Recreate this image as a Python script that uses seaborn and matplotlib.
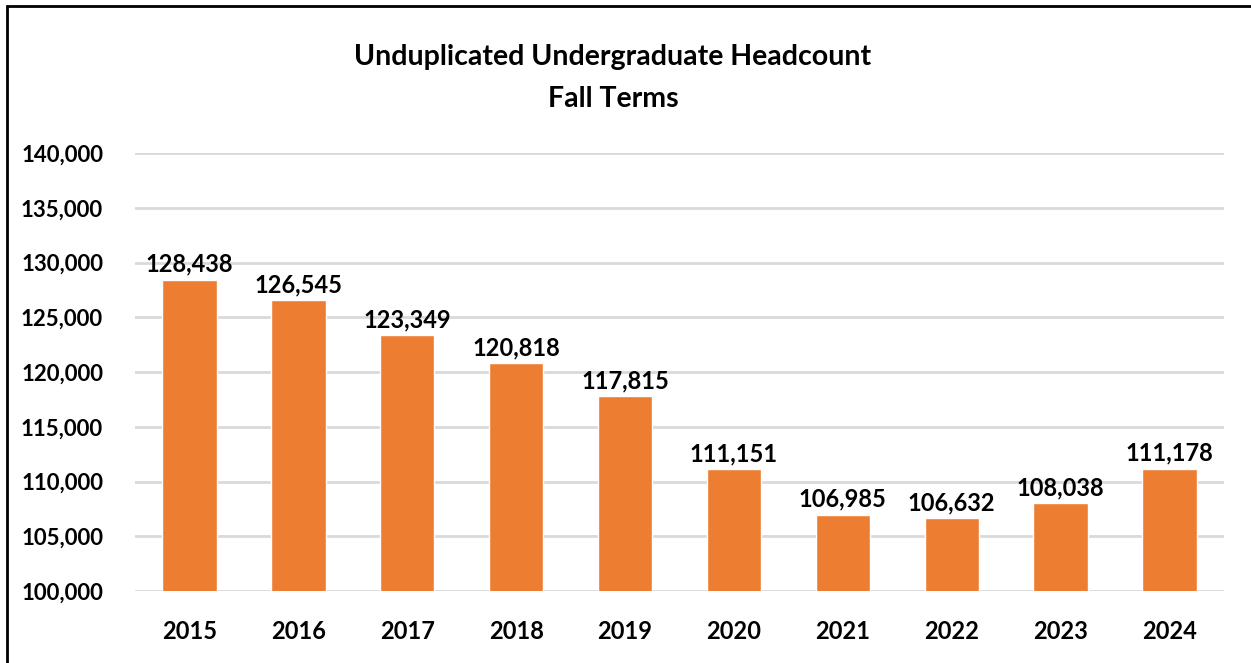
import pandas as pd
import matplotlib
matplotlib.use("Agg")
import matplotlib.pyplot as plt
import seaborn as sns
from matplotlib.ticker import FuncFormatter
from matplotlib.patches import Rectangle

# data
years = ["2015", "2016", "2017", "2018", "2019", "2020", "2021", "2022", "2023", "2024"]
headcount = [128438, 126545, 123349, 120818, 117815, 111151, 106985, 106632, 108038, 111178]

df = pd.DataFrame({"Year": years, "Headcount": headcount})

sns.set_theme(style="white")
plt.rcParams["font.family"] = ["Lato", "DejaVu Sans"]

fig = plt.figure(figsize=(12.51, 6.63), dpi=100)
ax = fig.add_axes([0.1079, 0.1086, 0.8705, 0.6606])

sns.barplot(data=df, x="Year", y="Headcount", color="#ED7D31", width=0.5,
            saturation=1, ax=ax, zorder=3)

ax.set_ylim(100000, 140000)
ax.set_yticks(range(100000, 140001, 5000))
ax.yaxis.set_major_formatter(FuncFormatter(lambda v, p: f"{int(v):,}"))
ax.grid(axis="y", color="#d9d9d9", linewidth=2, zorder=0)
ax.set_axisbelow(True)
for s in ax.spines.values():
    s.set_visible(False)
ax.set_xlabel("")
ax.set_ylabel("")
ax.tick_params(axis="y", length=0, pad=23, labelsize=16)
ax.tick_params(axis="x", length=0, pad=21, labelsize=17)
for lbl in ax.get_xticklabels() + ax.get_yticklabels():
    lbl.set_fontweight("bold")
    lbl.set_color("black")

# value labels on top of bars
for i, v in enumerate(headcount):
    ax.text(i, v + 350, f"{v:,}", ha="center", va="bottom",
            fontsize=17, fontweight="bold", color="black")

fig.text(0.49, 0.914, "Unduplicated Undergraduate Headcount", ha="center", va="center",
         fontsize=20.5, fontweight="bold", color="black")
fig.text(0.49, 0.851, "Fall Terms", ha="center", va="center",
         fontsize=20.5, fontweight="bold", color="black")

# frame around chart (only left and top edges visible in the crop)
fig.patches.append(Rectangle((7 / 1251, -0.05), 1.1, 1 - 6 / 663 + 0.05,
                             transform=fig.transFigure, fill=False,
                             edgecolor="black", linewidth=2))

fig.savefig("out.png", dpi=100)
